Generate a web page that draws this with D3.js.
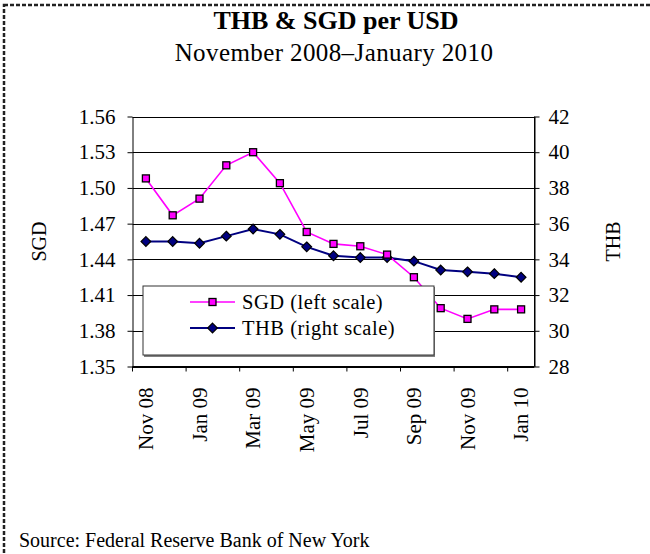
<!DOCTYPE html>
<html>
<head>
<meta charset="utf-8">
<script src="https://cdn.jsdelivr.net/npm/d3@7"></script>
<style>
  html, body { margin: 0; padding: 0; background: #fff; }
  svg text { font-family: "Liberation Serif", "Times New Roman", serif; fill: #000; }
</style>
</head>
<body>
<svg id="chart" width="650" height="554"></svg>
<script>
// Monthly average exchange rates, units of local currency per US dollar
const months = ["Nov 08", "Dec 08", "Jan 09", "Feb 09", "Mar 09", "Apr 09", "May 09", "Jun 09",
                "Jul 09", "Aug 09", "Sep 09", "Oct 09", "Nov 09", "Dec 09", "Jan 10"];
const sgd = [1.508, 1.477, 1.491, 1.519, 1.530, 1.504, 1.463, 1.453,
             1.451, 1.444, 1.425, 1.399, 1.390, 1.398, 1.398];
const thb = [35.0, 35.0, 34.9, 35.3, 35.7, 35.4, 34.7, 34.2,
             34.1, 34.1, 33.9, 33.4, 33.3, 33.2, 33.0];
const sgdTicks = [1.35, 1.38, 1.41, 1.44, 1.47, 1.50, 1.53, 1.56];
const thbTicks = [28, 30, 32, 34, 36, 38, 40, 42];
const monthLabels = ["Nov 08", "Jan 09", "Mar 09", "May 09", "Jul 09", "Sep 09", "Nov 09", "Jan 10"];

const svg = d3.select("#chart");
const plot = { left: 132.5, right: 534.5, top: 116.5, bottom: 366.5 };

const x = d3.scaleBand().domain(months).range([plot.left, plot.right]).padding(0);
const yL = d3.scaleLinear().domain([1.35, 1.56]).range([plot.bottom, plot.top]);
const yR = d3.scaleLinear().domain([28, 42]).range([plot.bottom, plot.top]);
const cx = m => x(m) + x.bandwidth() / 2;

// dashed frame
svg.append("rect")
  .attr("x", 4).attr("y", 5).attr("width", 700).attr("height", 600)
  .attr("fill", "none").attr("stroke", "#222").attr("stroke-width", 2.5)
  .attr("stroke-dasharray", "4,2");

// titles
svg.append("text").attr("x", 336).attr("y", 29).attr("text-anchor", "middle")
  .style("font-size", "26px").style("font-weight", "bold")
  .text("THB & SGD per USD");
svg.append("text").attr("x", 334).attr("y", 61).attr("text-anchor", "middle")
  .style("font-size", "25px").style("letter-spacing", "0.4px")
  .text("November 2008–January 2010");

// horizontal gridlines
svg.append("g").selectAll("line").data(sgdTicks).join("line")
  .attr("x1", plot.left).attr("x2", plot.right)
  .attr("y1", d => Math.round(yL(d)) + 0.5).attr("y2", d => Math.round(yL(d)) + 0.5)
  .attr("stroke", "#000").attr("stroke-width", 1);

// series
const sgdLine = d3.line().x((d, i) => cx(months[i])).y(d => yL(d));
const thbLine = d3.line().x((d, i) => cx(months[i])).y(d => yR(d));

svg.append("path").datum(thb).attr("d", thbLine)
  .attr("fill", "none").attr("stroke", "#000080").attr("stroke-width", 2);
svg.append("path").datum(sgd).attr("d", sgdLine)
  .attr("fill", "none").attr("stroke", "#ff00ff").attr("stroke-width", 1.6);

const diamond = d3.symbol().type(d3.symbolDiamond2).size(60);
svg.append("g").selectAll("path").data(thb).join("path")
  .attr("transform", (d, i) => `translate(${cx(months[i])},${yR(d)})`)
  .attr("d", diamond)
  .attr("fill", "#000080").attr("stroke", "#000").attr("stroke-width", 1.2);

svg.append("g").selectAll("rect").data(sgd).join("rect")
  .attr("x", (d, i) => cx(months[i]) - 3.5).attr("y", d => yL(d) - 3.5)
  .attr("width", 7).attr("height", 7)
  .attr("fill", "#ff00ff").attr("stroke", "#000").attr("stroke-width", 1.3);

// legend
const lg = svg.append("g");
lg.append("rect").attr("x", 144).attr("y", 287).attr("width", 291).attr("height", 70)
  .attr("fill", "#808080");
lg.append("rect").attr("x", 143).attr("y", 286).attr("width", 291).attr("height", 69)
  .attr("fill", "#fff").attr("stroke", "#333").attr("stroke-width", 1);
const legendItems = [
  { label: "SGD (left scale)", color: "#ff00ff", w: 1.6, marker: "square", y: 302 },
  { label: "THB (right scale)", color: "#000080", w: 2, marker: "diamond", y: 328 }
];
legendItems.forEach(it => {
  lg.append("line").attr("x1", 190).attr("x2", 235).attr("y1", it.y).attr("y2", it.y)
    .attr("stroke", it.color).attr("stroke-width", it.w);
  if (it.marker === "square") {
    lg.append("rect").attr("x", 209).attr("y", it.y - 3.5).attr("width", 7).attr("height", 7)
      .attr("fill", "#ff00ff").attr("stroke", "#000").attr("stroke-width", 1.3);
  } else {
    lg.append("path").attr("transform", `translate(212.5,${it.y})`).attr("d", diamond)
      .attr("fill", "#000080").attr("stroke", "#000").attr("stroke-width", 1.2);
  }
  lg.append("text").attr("x", 242).attr("y", it.y + 7)
    .style("font-size", "20.5px").style("letter-spacing", "0.5px").text(it.label);
});

// axes
const axisStyle = g => {
  g.select(".domain").attr("stroke", "#000").attr("stroke-width", 1);
  g.selectAll(".tick line").attr("stroke", "#000");
  g.selectAll("text").style("font-size", "21px")
    .style("font-family", "'Liberation Serif', 'Times New Roman', serif");
};

svg.append("g").attr("transform", `translate(${plot.left},0)`)
  .call(d3.axisLeft(yL).tickValues(sgdTicks).tickFormat(d3.format(".2f"))
        .tickSize(5).tickSizeOuter(0).tickPadding(12))
  .call(axisStyle);

svg.append("g").attr("transform", `translate(${plot.right},0)`)
  .call(d3.axisRight(yR).tickValues(thbTicks).tickFormat(d3.format("d"))
        .tickSize(5).tickSizeOuter(0).tickPadding(9))
  .call(axisStyle);

// bottom axis: ticks at the start of every other month, labels centred on those months
const xAxis = svg.append("g").attr("transform", `translate(0,${plot.bottom})`);
xAxis.append("line").attr("x1", plot.left).attr("x2", plot.right).attr("y1", 0).attr("y2", 0)
  .attr("stroke", "#000");
xAxis.selectAll("line.tk").data(monthLabels).join("line").attr("class", "tk")
  .attr("x1", d => x(d)).attr("x2", d => x(d)).attr("y1", 0).attr("y2", 5)
  .attr("stroke", "#000");
xAxis.selectAll("text").data(monthLabels).join("text")
  .attr("transform", d => `translate(${cx(d)},21) rotate(-90)`)
  .attr("text-anchor", "end").attr("dy", "0.35em")
  .style("font-size", "21px")
  .text(d => d);

// right edge of the plot area
svg.append("line").attr("x1", plot.right).attr("x2", plot.right)
  .attr("y1", plot.top).attr("y2", plot.bottom).attr("stroke", "#000");

// axis titles
svg.append("text").attr("transform", `translate(46,${(plot.top + plot.bottom) / 2}) rotate(-90)`)
  .attr("text-anchor", "middle").style("font-size", "20px").text("SGD");
svg.append("text").attr("transform", `translate(620,${(plot.top + plot.bottom) / 2}) rotate(-90)`)
  .attr("text-anchor", "middle").style("font-size", "20px").text("THB");

// source note
svg.append("text").attr("x", 19).attr("y", 547).style("font-size", "20px")
  .text("Source: Federal Reserve Bank of New York");
</script>
</body>
</html>
